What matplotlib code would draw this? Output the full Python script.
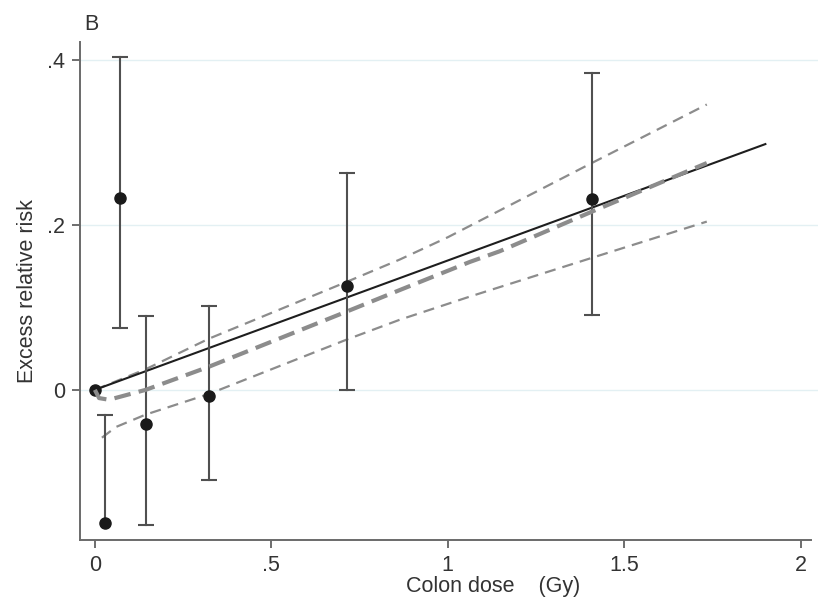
import matplotlib
matplotlib.use('Agg')
import matplotlib.pyplot as plt
import numpy as np

# category point estimates with 95% CIs
dose = [0.0, 0.028, 0.071, 0.144, 0.323, 0.714, 1.408]
err = [0.0, -0.162, 0.233, -0.042, -0.007, 0.126, 0.232]
err_lo = [np.nan, np.nan, 0.075, -0.164, -0.109, 0.0, 0.091]
err_hi = [np.nan, -0.030, 0.404, 0.090, 0.102, 0.263, 0.384]

# linear fit
lin_x = [0.0, 1.9]
lin_y = [0.0, 0.298]

# smoothed fit and its confidence band
sm_x = [0.0, 0.012, 0.04, 0.144, 0.323, 0.714, 0.864, 1.062, 1.147, 1.408, 1.734]
sm_y = [0.0, -0.010, -0.012, 0.0, 0.028, 0.095, 0.121, 0.155, 0.168, 0.216, 0.275]
up_x = [0.0, 0.144, 0.323, 0.714, 0.864, 1.0, 1.408, 1.734]
up_y = [0.0, 0.025, 0.062, 0.131, 0.158, 0.185, 0.275, 0.346]
lo_x = [0.02, 0.06, 0.144, 0.323, 0.714, 0.864, 1.062, 1.408, 1.734]
lo_y = [-0.058, -0.045, -0.030, -0.005, 0.061, 0.085, 0.113, 0.160, 0.204]

plt.rcParams['font.family'] = ['Liberation Sans', 'DejaVu Sans']
fs = 15.5
txt = '#333333'

fig = plt.figure(figsize=(8.38, 6.06), dpi=100)
ax = fig.add_axes([0.0955, 0.109, 0.881, 0.822])

ax.set_xlim(-0.042, 2.05)
ax.set_ylim(-0.182, 0.422)

for g in [0.0, 0.2, 0.4]:
    ax.axhline(g, color='#e3f0f3', lw=1.0, zorder=0)

ax.plot(up_x, up_y, color='#8c8c8c', lw=1.6, dashes=(5, 3.2), zorder=2)
ax.plot(lo_x, lo_y, color='#8c8c8c', lw=1.6, dashes=(5, 3.2), zorder=2)
ax.plot(lin_x, lin_y, color='#1e1e1e', lw=1.5, zorder=3)

# error bars (no lower limit for the second category)
for x, lo, hi, y in zip(dose, err_lo, err_hi, err):
    if np.isnan(hi):
        continue
    bottom = y if np.isnan(lo) else lo
    ax.plot([x, x], [bottom, hi], color='#505050', lw=1.5, zorder=4)
    ax.plot([x], [hi], marker='_', ms=11, mew=1.5, color='#505050', zorder=4)
    if not np.isnan(lo):
        ax.plot([x], [lo], marker='_', ms=11, mew=1.5, color='#505050', zorder=4)

ax.plot(dose, err, 'o', color='#1a1a1a', ms=8, zorder=5)
ax.plot(sm_x, sm_y, color='#8c8c8c', lw=3.0, dashes=(4, 2), zorder=6)

ax.set_xticks([0, 0.5, 1, 1.5, 2])
ax.set_xticklabels(['0', '.5', '1', '1.5', '2'])
ax.set_yticks([0, 0.2, 0.4])
ax.set_yticklabels(['0', '.2', '.4'])
ax.tick_params(direction='out', length=6, width=1.2, color='#555555', labelsize=fs,
               labelcolor=txt, pad=5)

for s in ['top', 'right']:
    ax.spines[s].set_visible(False)
for s in ['left', 'bottom']:
    ax.spines[s].set_color('#6a6a6a')
    ax.spines[s].set_linewidth(1.4)
ax.spines['bottom'].set_bounds(-0.042, 2.03)

ax.set_xlabel('Colon dose    (Gy)', fontsize=fs, color=txt)
ax.xaxis.set_label_coords(0.56, -0.072)
ax.set_ylabel('Excess relative risk', fontsize=fs, color=txt, labelpad=6)
fig.text(0.101, 0.9505, 'B', fontsize=fs, color=txt, ha='left', va='baseline')

fig.savefig('out.png', dpi=100, facecolor='white')
